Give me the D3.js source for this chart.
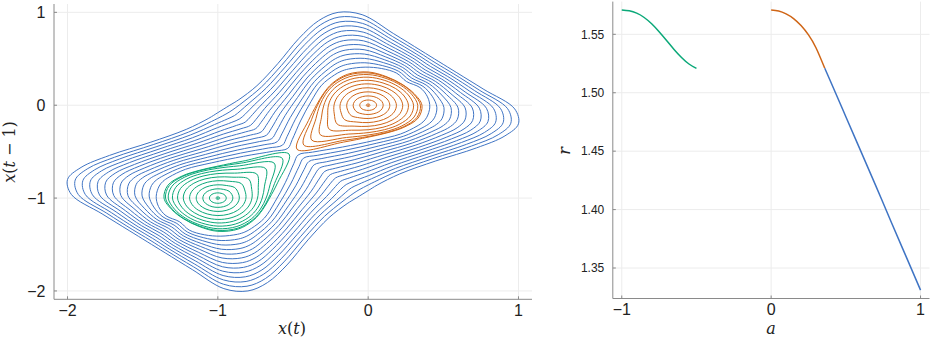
<!DOCTYPE html>
<html><head><meta charset="utf-8">
<script src="https://cdn.jsdelivr.net/npm/d3@7"></script>
<style>html,body{margin:0;padding:0;background:#fff;}svg{display:block;}</style>
</head><body>
<svg id="c" width="939" height="343"></svg>
<script>
// ---------------- data ----------------
const phaseTicks = [-2, -1, 0, 1];
const aTicks = [-1, 0, 1];
const rTicks = [1.35, 1.40, 1.45, 1.50, 1.55];

// ray directions (degrees, data coordinates) used for the radii of the closed orbits around a centre
const rayAngles = [0, 22.5, 45, 67.5, 90, 112.5, 135, 157.5, 180, 202.5, 225, 247.5, 270, 292.5, 315, 337.5];

// orange orbits around the centre (0, 0): radius along each ray
const orangeCenter = [0, 0];
const orangeRadii = [
  [0.004,0.004,0.004,0.004,0.004,0.004,0.004,0.004,0.004,0.004,0.004,0.004,0.004,0.004,0.004,0.004],
  [0.013,0.013,0.013,0.013,0.013,0.013,0.013,0.013,0.013,0.013,0.013,0.013,0.013,0.013,0.013,0.013],
  [0.056,0.056,0.056,0.056,0.056,0.056,0.056,0.056,0.056,0.056,0.057,0.056,0.056,0.056,0.056,0.056],
  [0.100,0.100,0.099,0.100,0.100,0.100,0.100,0.099,0.100,0.101,0.105,0.101,0.100,0.099,0.100,0.100],
  [0.144,0.143,0.142,0.143,0.144,0.144,0.143,0.142,0.143,0.147,0.159,0.147,0.143,0.142,0.143,0.144],
  [0.188,0.185,0.184,0.185,0.188,0.188,0.186,0.184,0.187,0.196,0.221,0.196,0.187,0.184,0.186,0.188],
  [0.230,0.225,0.222,0.225,0.230,0.230,0.226,0.223,0.227,0.244,0.290,0.244,0.227,0.223,0.226,0.230],
  [0.268,0.259,0.256,0.259,0.268,0.269,0.261,0.257,0.264,0.291,0.366,0.291,0.264,0.257,0.261,0.269],
  [0.302,0.289,0.284,0.289,0.302,0.303,0.292,0.285,0.295,0.336,0.450,0.336,0.295,0.285,0.292,0.303],
  [0.330,0.312,0.305,0.312,0.330,0.331,0.316,0.307,0.321,0.376,0.531,0.376,0.321,0.307,0.316,0.331],
  [0.348,0.325,0.316,0.325,0.348,0.350,0.330,0.319,0.337,0.408,0.606,0.408,0.337,0.319,0.330,0.350],
  [0.358,0.330,0.319,0.330,0.358,0.360,0.336,0.323,0.344,0.430,0.670,0.430,0.344,0.323,0.336,0.360]
];

// green orbits around the centre (-1, -1): radius along each ray
const greenCenter = [-1, -1];
const greenRadii = [
  [0.004,0.004,0.004,0.004,0.004,0.004,0.004,0.004,0.004,0.004,0.004,0.004,0.004,0.004,0.004,0.004],
  [0.013,0.013,0.013,0.013,0.013,0.013,0.013,0.013,0.013,0.013,0.013,0.013,0.013,0.013,0.013,0.013],
  [0.056,0.056,0.057,0.056,0.056,0.056,0.056,0.056,0.056,0.056,0.056,0.056,0.056,0.056,0.056,0.056],
  [0.100,0.101,0.105,0.101,0.100,0.099,0.100,0.100,0.100,0.100,0.099,0.100,0.100,0.100,0.100,0.099],
  [0.143,0.147,0.159,0.147,0.143,0.142,0.143,0.144,0.144,0.143,0.142,0.143,0.144,0.144,0.143,0.142],
  [0.187,0.196,0.221,0.196,0.187,0.184,0.186,0.188,0.188,0.185,0.184,0.185,0.188,0.188,0.186,0.184],
  [0.227,0.244,0.290,0.244,0.227,0.223,0.226,0.230,0.230,0.225,0.222,0.225,0.230,0.230,0.226,0.223],
  [0.264,0.291,0.366,0.291,0.264,0.257,0.261,0.269,0.268,0.259,0.256,0.259,0.268,0.269,0.261,0.257],
  [0.295,0.336,0.450,0.336,0.295,0.285,0.292,0.303,0.302,0.289,0.284,0.289,0.302,0.303,0.292,0.285],
  [0.321,0.376,0.531,0.376,0.321,0.307,0.316,0.331,0.330,0.312,0.305,0.312,0.330,0.331,0.316,0.307],
  [0.337,0.408,0.606,0.408,0.337,0.319,0.330,0.350,0.348,0.325,0.316,0.325,0.348,0.350,0.330,0.319],
  [0.344,0.430,0.670,0.430,0.344,0.323,0.336,0.360,0.358,0.330,0.319,0.330,0.358,0.360,0.336,0.323]
];

// blue orbits enclosing both centres: one quarter of each orbit, from its crossing of the
// diagonal x = y (upper right) to its crossing of the line x + y = -1 (upper left).
// The orbits are symmetric under x <-> y and under the half turn about (-0.5, -0.5).
const blueQuarters = [
  [[0.255,0.255],[0.190,0.345],[0.090,0.395],[-0.020,0.410],[-0.130,0.390],[-0.180,0.365],[-0.225,0.325],[-0.310,0.215],[-0.380,0.040],[-0.450,-0.170],[-0.505,-0.370],[-0.535,-0.465]],
  [[0.273,0.273],[0.203,0.365],[0.097,0.426],[-0.022,0.457],[-0.136,0.441],[-0.193,0.410],[-0.245,0.358],[-0.334,0.235],[-0.410,0.054],[-0.484,-0.151],[-0.540,-0.339],[-0.570,-0.430]],
  [[0.291,0.291],[0.217,0.386],[0.103,0.458],[-0.023,0.504],[-0.142,0.492],[-0.205,0.456],[-0.264,0.391],[-0.358,0.254],[-0.440,0.068],[-0.518,-0.132],[-0.574,-0.308],[-0.606,-0.394]],
  [[0.309,0.309],[0.230,0.406],[0.110,0.489],[-0.025,0.551],[-0.148,0.543],[-0.218,0.501],[-0.284,0.424],[-0.383,0.274],[-0.470,0.083],[-0.553,-0.113],[-0.609,-0.278],[-0.641,-0.359]],
  [[0.327,0.327],[0.243,0.427],[0.117,0.520],[-0.027,0.598],[-0.153,0.593],[-0.230,0.547],[-0.303,0.457],[-0.407,0.293],[-0.500,0.097],[-0.587,-0.093],[-0.643,-0.247],[-0.677,-0.323]],
  [[0.345,0.345],[0.257,0.447],[0.123,0.551],[-0.028,0.645],[-0.159,0.644],[-0.243,0.592],[-0.323,0.490],[-0.431,0.313],[-0.530,0.111],[-0.621,-0.074],[-0.678,-0.216],[-0.712,-0.288]],
  [[0.363,0.363],[0.270,0.468],[0.130,0.583],[-0.030,0.693],[-0.165,0.695],[-0.255,0.638],[-0.343,0.523],[-0.455,0.333],[-0.560,0.125],[-0.655,-0.055],[-0.713,-0.185],[-0.748,-0.252]],
  [[0.380,0.380],[0.283,0.488],[0.137,0.614],[-0.032,0.740],[-0.171,0.746],[-0.268,0.683],[-0.362,0.555],[-0.479,0.352],[-0.590,0.139],[-0.689,-0.036],[-0.747,-0.154],[-0.783,-0.217]],
  [[0.398,0.398],[0.297,0.508],[0.143,0.645],[-0.033,0.787],[-0.177,0.797],[-0.280,0.728],[-0.382,0.588],[-0.503,0.372],[-0.620,0.153],[-0.723,-0.017],[-0.782,-0.123],[-0.818,-0.182]],
  [[0.416,0.416],[0.310,0.529],[0.150,0.676],[-0.035,0.834],[-0.183,0.848],[-0.293,0.774],[-0.401,0.621],[-0.528,0.391],[-0.650,0.168],[-0.758,0.003],[-0.816,-0.093],[-0.854,-0.146]],
  [[0.434,0.434],[0.323,0.549],[0.157,0.708],[-0.037,0.881],[-0.188,0.898],[-0.305,0.819],[-0.421,0.654],[-0.552,0.411],[-0.680,0.182],[-0.792,0.022],[-0.851,-0.062],[-0.889,-0.111]],
  [[0.452,0.452],[0.337,0.570],[0.163,0.739],[-0.038,0.928],[-0.194,0.949],[-0.318,0.865],[-0.440,0.687],[-0.576,0.430],[-0.710,0.196],[-0.826,0.041],[-0.885,-0.031],[-0.925,-0.075]],
  [[0.470,0.470],[0.350,0.590],[0.170,0.770],[-0.040,0.975],[-0.200,1.000],[-0.330,0.910],[-0.460,0.720],[-0.600,0.450],[-0.740,0.210],[-0.860,0.060],[-0.920,0.000],[-0.960,-0.040]]
];

// right panel: r against a for each family
const greenA = [-1.00, -0.95, -0.90, -0.85, -0.80, -0.75, -0.70, -0.65, -0.60, -0.55, -0.50];
const greenR = [1.5708, 1.5701, 1.5681, 1.5644, 1.5590, 1.5522, 1.5447, 1.5371, 1.5302, 1.5246, 1.5208];
const orangeA = [0.00, 0.05, 0.10, 0.15, 0.20, 0.25, 0.30, 0.359];
const orangeR = [1.5708, 1.5700, 1.5675, 1.5635, 1.5575, 1.5495, 1.5385, 1.5209];
const blueA = [0.359, 0.40, 0.50, 0.60, 0.70, 0.80, 0.90, 1.00];
const blueR = [1.5209, 1.5090, 1.4795, 1.4500, 1.4205, 1.3905, 1.3608, 1.3311];

const colBlue = "#3f74c4", colOrange = "#cf6516", colGreen = "#0aa878";

// ---------------- drawing ----------------
const svg = d3.select("#c");
const axisCol = "#8a8a8a", gridCol = "#ececec", textCol = "#222";
const tickFont = "'Liberation Sans', Arial, sans-serif";
const mathFont = "'DejaVu Serif', 'Liberation Serif', serif";
const fmt = v => (v < 0 ? "\u2212" : "") + Math.abs(v);

// left panel scales
const xL = d3.scaleLinear().domain([-2.09, 1.09]).range([54, 532]);
const yL = d3.scaleLinear().domain([-2.09, 1.09]).range([299.3, 4]);
// right panel scales
const xR = d3.scaleLinear().domain([-1.06, 1.06]).range([612.8, 929.5]);
const yR = d3.scaleLinear().domain([1.3239, 1.5780]).range([298.5, 1.6]);

function frame(x, y, xt, yt, yFmt, ySize) {
  const g = svg.append("g");
  const [x0, x1] = x.range(), [y0, y1] = y.range();
  g.selectAll(".gx").data(xt).join("line")
    .attr("x1", d => x(d)).attr("x2", d => x(d)).attr("y1", y0).attr("y2", y1)
    .attr("stroke", gridCol).attr("stroke-width", 1);
  g.selectAll(".gy").data(yt).join("line")
    .attr("x1", x0).attr("x2", x1).attr("y1", d => y(d)).attr("y2", d => y(d))
    .attr("stroke", gridCol).attr("stroke-width", 1);
  g.append("line").attr("x1", x0).attr("x2", x0).attr("y1", y0).attr("y2", y1).attr("stroke", axisCol);
  g.append("line").attr("x1", x0).attr("x2", x1).attr("y1", y0).attr("y2", y0).attr("stroke", axisCol);
  g.selectAll(".tx").data(xt).join("line")
    .attr("x1", d => x(d)).attr("x2", d => x(d)).attr("y1", y0).attr("y2", y0 - 3).attr("stroke", axisCol);
  g.selectAll(".ty").data(yt).join("line")
    .attr("x1", x0).attr("x2", x0 + 3).attr("y1", d => y(d)).attr("y2", d => y(d)).attr("stroke", axisCol);
  g.selectAll(".lx").data(xt).join("text")
    .attr("x", d => x(d)).attr("y", y0 + 16.5).attr("text-anchor", "middle")
    .attr("font-family", tickFont).attr("font-size", 16).attr("fill", textCol).text(fmt);
  g.selectAll(".ly").data(yt).join("text")
    .attr("x", x0 - 8.5).attr("y", d => y(d) + ySize * 0.36).attr("text-anchor", "end")
    .attr("font-family", tickFont).attr("font-size", ySize).attr("fill", textCol).text(yFmt);
}

frame(xL, yL, phaseTicks, phaseTicks, fmt, 16);
frame(xR, yR, aTicks, rTicks, d => d.toFixed(2), 12);

const rad = d => d * Math.PI / 180;
const lineL = d3.line().x(p => xL(p[0])).y(p => yL(p[1])).curve(d3.curveCatmullRomClosed.alpha(0.5));

// blue orbits: rebuild the whole closed orbit from its quarter via the two symmetries
function fullOrbit(q) {
  const S = p => [p[1], p[0]];
  const R = p => [-1 - p[0], -1 - p[1]];
  const SR = p => [-1 - p[1], -1 - p[0]];
  const n = q.length;
  return q.concat(
    q.slice(0, n - 1).reverse().map(SR),
    q.slice(1).map(R),
    q.slice(1, n - 1).reverse().map(S)
  );
}
const gL = svg.append("g").attr("fill", "none").attr("stroke-width", 1);
gL.selectAll(".blue").data(blueQuarters).join("path")
  .attr("d", q => lineL(fullOrbit(q))).attr("stroke", colBlue);

function ringPoints(center, radii) {
  return radii.map((r, i) => [center[0] + r * Math.cos(rad(rayAngles[i])), center[1] + r * Math.sin(rad(rayAngles[i]))]);
}
gL.selectAll(".orange").data(orangeRadii).join("path")
  .attr("d", r => lineL(ringPoints(orangeCenter, r))).attr("stroke", colOrange);
gL.selectAll(".green").data(greenRadii).join("path")
  .attr("d", r => lineL(ringPoints(greenCenter, r))).attr("stroke", colGreen);

// right panel curves
const lineR = d3.line().x(d => xR(d[0])).y(d => yR(d[1])).curve(d3.curveNatural);
const gR = svg.append("g").attr("fill", "none").attr("stroke-width", 1.5);
[[greenA, greenR, colGreen], [orangeA, orangeR, colOrange], [blueA, blueR, colBlue]].forEach(([a, r, c]) => {
  gR.append("path").attr("d", lineR(a.map((v, i) => [v, r[i]]))).attr("stroke", c);
});

// axis labels
function mathLabel(parts, x, y, rotate) {
  const t = svg.append("text").attr("font-family", mathFont).attr("font-size", 16).attr("fill", textCol)
    .attr("text-anchor", "middle")
    .attr("transform", `translate(${x},${y})` + (rotate ? " rotate(-90)" : ""));
  parts.forEach(([s, it]) => t.append("tspan").attr("font-style", it ? "italic" : "normal").text(s));
}
mathLabel([["x", 1], ["(", 0], ["t", 1], [")", 0]], 292, 334, false);
mathLabel([["x", 1], ["(", 0], ["t", 1], [" \u2212 1)", 0]], 15, 152, true);
mathLabel([["a", 1]], 771, 334, false);
mathLabel([["r", 1]], 570, 151, true);
</script>
</body></html>
